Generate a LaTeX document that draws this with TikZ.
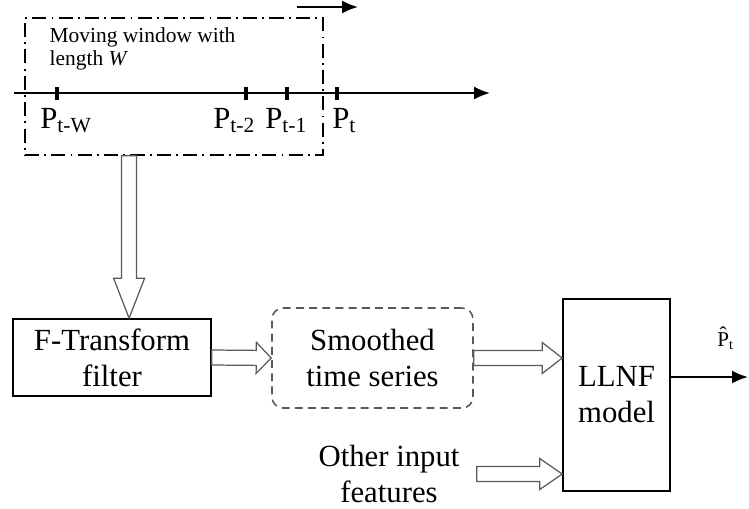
\documentclass[tikz,border=0pt]{standalone}
\usepackage{fontspec}
\setmainfont{Liberation Serif}
\usepackage{amsmath}
\usetikzlibrary{arrows.meta, positioning, calc}

\begin{document}
\begin{tikzpicture}[
    x=0.02cm, y=-0.02cm,
    every node/.style={align=center, font=\fontsize{17.5}{20.5}\selectfont},
    block/.style={draw, line width=0.9pt, inner sep=0pt},
    softblock/.style={draw=black!65, line width=0.9pt, dash pattern=on 4.5pt off 3pt, rounded corners=0.22cm, inner sep=0pt},
    window/.style={draw, line width=0.8pt, dash pattern=on 8pt off 3pt on 1pt off 3pt, inner sep=0pt, minimum width=5.96cm, minimum height=2.74cm},
    arrow/.style={-{Latex[length=0.32cm, width=0.26cm]}, line width=1.1pt},
    hollow/.style={draw=black!65, line width=0.7pt, to path={
        let \p1=($(\tikztotarget)!#1!(\tikztostart)$) in
        ($(\tikztostart)!0.15cm!90:(\tikztotarget)$) -- ($(\p1)!0.15cm!90:(\tikztotarget)$)
        -- ($(\p1)!0.31cm!90:(\tikztotarget)$) -- (\tikztotarget)
        -- ($(\p1)!0.31cm!-90:(\tikztotarget)$) -- ($(\p1)!0.15cm!-90:(\tikztotarget)$)
        -- ($(\tikztostart)!0.15cm!-90:(\tikztotarget)$) -- cycle}}
]
\useasboundingbox (0,0) rectangle (749,508);

% Moving window
\node[window] (win) at (174,86.5) {};
\node[anchor=north west, inner sep=0pt, align=left, font=\fontsize{12.2}{13}\selectfont] (wintext) at ([xshift=0.5cm, yshift=-0.2cm]win.north west) {Moving window with\\length \textit{W}};
\coordinate (shiftstart) at (297,7);
\coordinate (shiftend) at (358,7);
\draw[arrow] (shiftstart) -- (shiftend);

% Time axis
\coordinate (axstart) at (14,93);
\coordinate (axend) at (490,93);
\draw[arrow] (axstart) -- (axend);
\foreach \tx/\lx/\sub in {57/40/t-W, 246/213/t-2, 287/265/t-1, 337/332/t} {
    \draw[line width=2.2pt] (\tx,87) -- (\tx,100);
    \node[anchor=base west, inner sep=0pt] (p\tx) at (\lx,128) {P\textsubscript{\sub}};
}

% Nodes
\node[block, minimum width=3.96cm, minimum height=1.54cm] (ftrans) at (112,357.5) {F-Transform\\filter};
\node[softblock, minimum width=4.02cm, minimum height=2cm] (smooth) at (372.5,358) {Smoothed\\time series};
\node[block, minimum width=2.14cm, minimum height=3.84cm] (llnf) at (616.5,395) {LLNF\\model};
\node[inner xsep=0.34cm, inner ysep=0pt] (other) at (389,474) {Other input\\features};
\node[inner sep=0pt, anchor=base west, font=\fontsize{12}{14}\selectfont] (phat) at (717,346) {\accent"02C6 P\textsubscript{t}};

% Arrows
\coordinate (drop) at ($(win.south west)!0.35!(win.south east)$);
\coordinate (dropend) at (drop |- ftrans.north);
\draw[hollow=0.8cm] (drop) to (dropend);
\draw[hollow=0.3cm] (ftrans.east) to (smooth.west);
\coordinate (in1) at (smooth.east -| llnf.west);
\draw[hollow=0.4cm] (smooth.east) to (in1);
\coordinate (in2) at (other.east -| llnf.west);
\draw[hollow=0.45cm] (other.east) to (in2);
\coordinate (outend) at (748,377);
\draw[arrow] (llnf.east |- outend) -- (outend);

\end{tikzpicture}
\end{document}
